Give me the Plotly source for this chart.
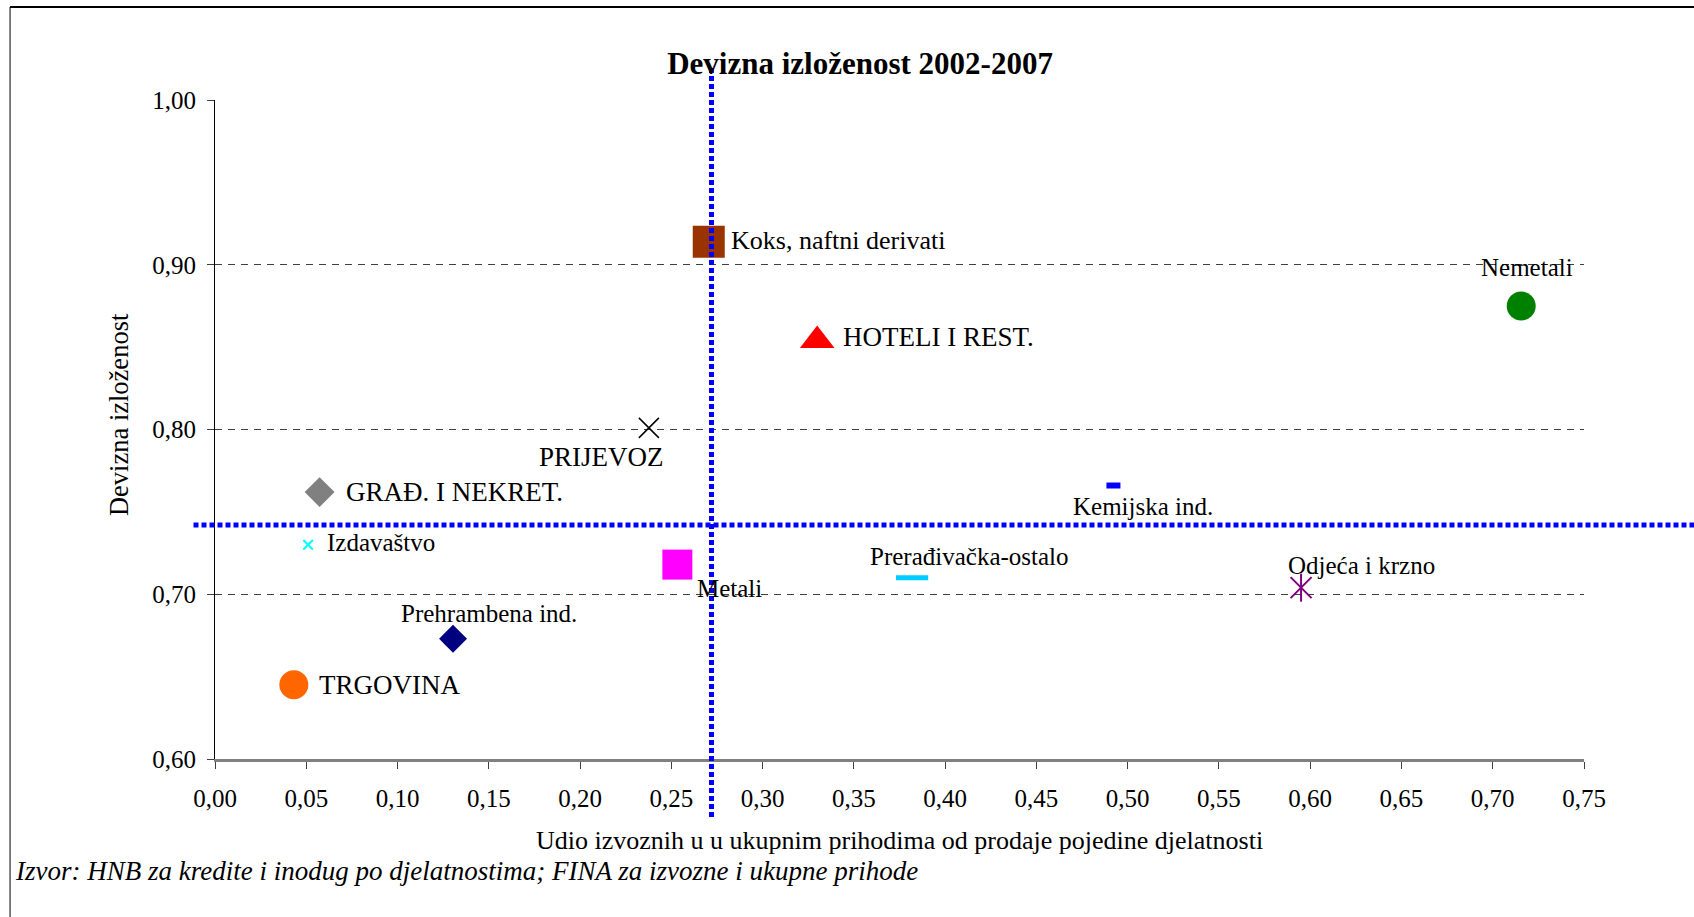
import plotly.graph_objects as go

# ---------------- data ----------------
sectors = ["Koks, naftni derivati", "Nemetali", "HOTELI I REST.", "PRIJEVOZ",
           "GRAĐ. I NEKRET.", "Izdavaštvo", "Metali", "Prehrambena ind.",
           "TRGOVINA", "Kemijska ind.", "Prerađivačka-ostalo", "Odjeća i krzno"]
export_share = [0.2705, 0.7156, 0.3299, 0.2377, 0.0573, 0.0510, 0.2533, 0.1304,
                0.0432, 0.4922, 0.3819, 0.5950]
fx_exposure = [0.914, 0.875, 0.854, 0.801, 0.762, 0.730, 0.718, 0.673,
               0.645, 0.766, 0.710, 0.704]
avg_export_share = 0.272
avg_fx_exposure = 0.742

x_ticks = [i * 0.05 for i in range(16)]
y_ticks = [0.6, 0.7, 0.8, 0.9, 1.0]

title_text = "Devizna izloženost 2002-2007"
x_title = "Udio izvoznih u u ukupnim prihodima od prodaje pojedine djelatnosti"
y_title = "Devizna izloženost"
source_text = "Izvor: HNB za kredite i inodug po djelatnostima; FINA za izvozne i ukupne prihode"

# ---------------- styles ----------------
FONT = "Liberation Serif, Times New Roman, serif"
# symbol, size, color, line width, label: (xanchor, xshift, yshift, fontsize)
styles = [
    ("square", 32, "#993300", 0, ("left", 20, 1, 26)),
    ("circle", 29, "#008000", 0, ("center", 6, 38, 25)),
    ("triangle-up", 30, "#FF0000", 0, ("left", 24, 4, 27)),
    ("x-thin", 20, "#000000", 1.5, ("center", -47, -29, 27)),
    ("diamond", 23, "#808080", 0, ("left", 24, 0, 27)),
    ("x-thin", 9.5, "#00FFFF", 2, ("left", 17, 2, 25)),
    ("square", 30, "#FF00FF", 0, ("left", 18, -24, 25)),
    ("diamond", 21.5, "#000080", 0, ("center", 36, 25, 25)),
    ("circle", 29, "#FF6600", 0, ("left", 23, 0, 27)),
    ("line-ew", 10, "#0000FF", 6, ("center", 30, -21, 25)),
    ("line-ew", 23, "#00CCFF", 5, ("center", 57, 21, 25)),
    ("x-thin", 21, "#800080", 2, ("left", -15, 22, 25)),
]

fig = go.Figure()
annotations = []
for name, xv, yv, st in zip(sectors, export_share, fx_exposure, styles):
    sym, size, col, lw, (xa, xs, ys, fs) = st
    fig.add_trace(go.Scatter(
        x=[xv], y=[yv], mode="markers", name=name,
        marker=dict(symbol=sym, size=size, color=col,
                    line=dict(color=col, width=lw)),
        hoverinfo="name"))
    if name == "Odjeća i krzno":
        fig.add_trace(go.Scatter(
            x=[xv], y=[yv], mode="markers", name=name, showlegend=False,
            marker=dict(symbol="line-ns", size=20, color=col,
                        line=dict(color=col, width=lw)),
            hoverinfo="name"))
    annotations.append(dict(
        x=xv, y=yv, xref="x", yref="y", text=name, showarrow=False,
        xanchor=xa, yanchor="middle", xshift=xs, yshift=ys,
        font=dict(family=FONT, size=fs, color="black")))

# axis titles and source as annotations
annotations += [
    dict(text=x_title, xref="paper", yref="paper", x=0.5, y=-0.1244,
         xanchor="center", yanchor="middle", showarrow=False,
         font=dict(family=FONT, size=26, color="black")),
    dict(text=y_title, xref="paper", yref="paper", x=-0.0701, y=0.522,
         xanchor="center", yanchor="middle", textangle=-90, showarrow=False,
         font=dict(family=FONT, size=26.5, color="black")),
    dict(text="<i>" + source_text + "</i>", xref="paper", yref="paper",
         x=-0.1475, y=-0.170, xanchor="left", yanchor="middle",
         showarrow=False, font=dict(family=FONT, size=27, color="black")),
]

shapes = [
    # threshold lines
    dict(type="line", xref="x", yref="paper", x0=avg_export_share, x1=avg_export_share,
         y0=-0.088, y1=1.0486, layer="above",
         line=dict(color="#0000FF", width=5, dash="5px,3px")),
    dict(type="line", xref="paper", yref="y", x0=-0.0157, x1=1.09,
         y0=avg_fx_exposure, y1=avg_fx_exposure, layer="above",
         line=dict(color="#0000FF", width=5, dash="5px,3px")),
    # outer frame (top and left)
    dict(type="line", xref="paper", yref="paper", x0=-0.1497, x1=1.09,
         y0=1.1411, y1=1.1411, line=dict(color="black", width=2)),
    dict(type="line", xref="paper", yref="paper", x0=-0.1497, x1=-0.1497,
         y0=1.1411, y1=-0.25, line=dict(color="black", width=1)),
]

fig.update_layout(
    width=1694, height=917,
    margin=dict(l=215, r=110, t=100, b=158),
    paper_bgcolor="white", plot_bgcolor="white",
    showlegend=False, separators=",.",
    title=dict(text="<b>" + title_text + "</b>", xref="container", yref="container",
               x=0.5077, y=0.931, xanchor="center", yanchor="middle",
               font=dict(family=FONT, size=31, color="black")),
    font=dict(family=FONT, color="black"),
    annotations=annotations, shapes=shapes,
    xaxis=dict(range=[0, 0.75], tickvals=x_ticks, tickformat=".2f",
               showgrid=False, zeroline=False, showline=True,
               linecolor="#808080", linewidth=3,
               ticks="outside", ticklen=7, tickwidth=1, tickcolor="#404040",
               tickfont=dict(family=FONT, size=25, color="black"),
               ticklabelstandoff=8),
    yaxis=dict(range=[0.6, 1.0], tickvals=y_ticks, tickformat=".2f",
               showgrid=True, gridcolor="#404040", gridwidth=1, griddash="7px,6px",
               zeroline=False, showline=True, linecolor="black", linewidth=1,
               ticks="outside", ticklen=7, tickwidth=1, tickcolor="#404040",
               tickfont=dict(family=FONT, size=25, color="black"),
               ticklabelstandoff=6),
)

fig.write_html("out.html", config={"displayModeBar": False},
               post_script="document.body.style.margin='0';document.body.style.overflow='hidden';")
